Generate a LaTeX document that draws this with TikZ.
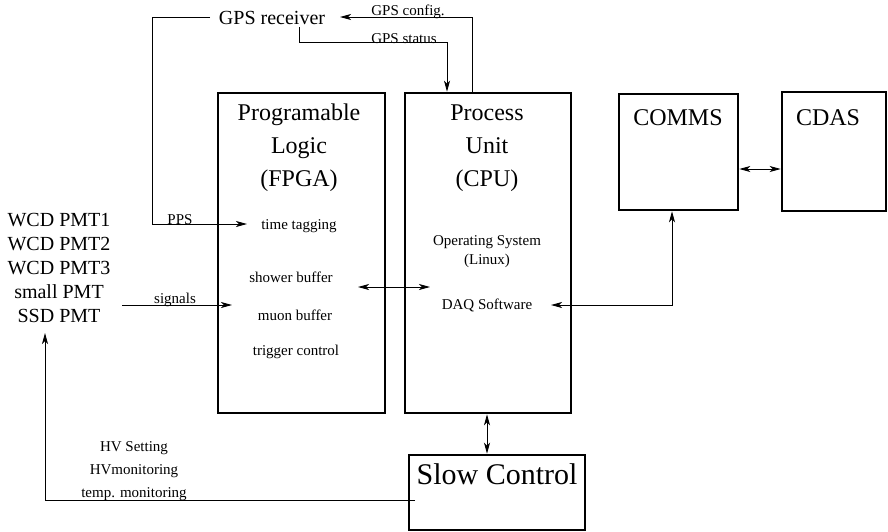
\documentclass[tikz,border=0pt]{standalone}
\usepackage{fontspec}
\setmainfont{Liberation Serif}
\usetikzlibrary{arrows.meta}

\begin{document}
\begin{tikzpicture}[x=1pt,y=-1pt,
  blk/.style={draw, line width=2.6pt, inner sep=0pt},
  conn/.style={line width=0.9pt},
  tipr/.style={-{Stealth[length=11pt,width=6pt,inset=3pt]}},
  twoway/.style={{Stealth[length=11pt,width=6pt,inset=3pt]}-{Stealth[length=11pt,width=6pt,inset=3pt]}},
  big/.style={font=\fontsize{24}{33}\selectfont, align=center, inner sep=0pt},
  mid/.style={font=\fontsize{20}{24}\selectfont, align=center, inner sep=0pt},
  small/.style={font=\fontsize{15}{19}\selectfont, align=center, inner sep=0pt},
]
\useasboundingbox (0,0) rectangle (888,531);

% main blocks
\node[blk, minimum width=167pt, minimum height=320pt] (fpga) at (301.5,253) {};
\node[blk, minimum width=166pt, minimum height=320pt] (cpu)  at (488,253) {};
\node[blk, minimum width=119pt, minimum height=116pt] (comms) at (678.5,152) {};
\node[blk, minimum width=104pt, minimum height=119pt] (cdas)  at (834,151.5) {};
\node[blk, minimum width=176pt, minimum height=75pt]  (slow)  at (497,492.5) {};

% block titles
\node[big] (fpgaT) at (299,148) {Programable\\Logic\\(FPGA)};
\node[big] (cpuT)  at (487,148) {Process\\Unit\\(CPU)};
\node[big] (commsT) at (678,118) {COMMS};
\node[big] (cdasT)  at (828,118) {CDAS};
\node[font=\fontsize{30}{33}\selectfont, inner sep=0pt] (slowT) at (497,474) {Slow Control};

% FPGA contents
\node[small] (tt)  at (299,226) {time tagging};
\node[small] (sb)  at (291,277) {shower buffer};
\node[small] (mb)  at (295,315) {muon buffer};
\node[small] (tc)  at (296,352) {trigger control};

% CPU contents
\node[small] (os)  at (487,252) {Operating System\\(Linux)};
\node[small] (daq) at (487,305) {DAQ Software};

% GPS receiver and detectors
\node[font=\fontsize{20}{24}\selectfont, inner sep=0pt] (gps) at (272,18) {GPS receiver};
\node[mid] (pmts) at (59,268) {WCD PMT1\\WCD PMT2\\WCD PMT3\\small PMT\\SSD PMT};

% bend points
\coordinate (ppsA) at (210,17);
\coordinate (ppsB) at (152,17);
\coordinate (ppsC) at (152,224);
\coordinate (ppsEnd) at (247,224);
\coordinate (stA) at (299,27);
\coordinate (stB) at (299,42);
\coordinate (stC) at (447,42);
\coordinate (cfA) at (472,17);
\coordinate (cfEnd) at (340,17);
\coordinate (sigA) at (122,305);
\coordinate (sigEnd) at (232,305);
\coordinate (busL) at (358,287);
\coordinate (busR) at (430,287);
\coordinate (daqB) at (672,305);
\coordinate (daqEnd) at (551,305);
\coordinate (hvA) at (415,500);
\coordinate (hvB) at (45,500);
\coordinate (hvEnd) at (45,333);

% connectors
\draw[conn,tipr] (ppsA) -- (ppsB) -- (ppsC) -- (ppsEnd);
\node[small, anchor=south] at (180,225) {PPS};

\draw[conn,tipr] (stA) -- (stB) -- (stC) -- (stC |- cpu.north);
\node[small, anchor=south] at (404,44) {GPS status};

\draw[conn,tipr] (cfA |- cpu.north) -- (cfA) -- (cfEnd);
\node[small, anchor=south] at (408,19) {GPS config.};

\draw[conn,tipr] (sigA) -- (sigEnd);
\node[small, anchor=south] at (175,307) {signals};

\draw[conn,twoway] (busL) -- (busR);
\draw[conn,twoway] (daqEnd) -- (daqB) -- (daqB |- comms.south);
\draw[conn,twoway] (comms.east |- 0,169) -- (cdas.west |- 0,169);
\draw[conn,twoway] (cpu.south -| 487,0) -- (slow.north -| 487,0);

\draw[conn,tipr] (hvA) -- (hvB) -- (hvEnd);
\node[small, font=\fontsize{15}{23}\selectfont] (hv) at (134,471) {HV Setting\\HVmonitoring\\temp. monitoring};
\end{tikzpicture}
\end{document}
